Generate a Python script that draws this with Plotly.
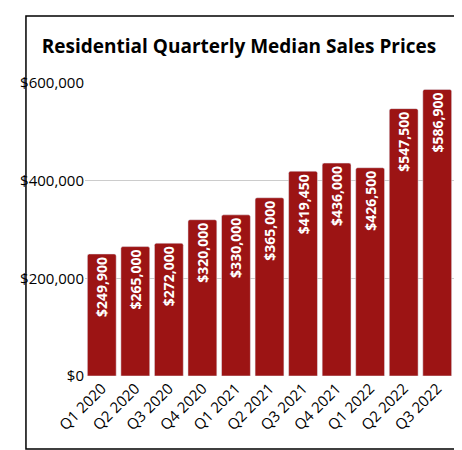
import plotly.graph_objects as go

quarters = ["Q1 2020", "Q2 2020", "Q3 2020", "Q4 2020", "Q1 2021", "Q2 2021",
            "Q3 2021", "Q4 2021", "Q1 2022", "Q2 2022", "Q3 2022"]
prices = [249900, 265000, 272000, 320000, 330000, 365000,
          419450, 436000, 426500, 547500, 586900]
labels = ["<b>$" + format(p, ",") + "</b>" for p in prices]

fig = go.Figure(go.Bar(
    x=quarters, y=prices, text=labels,
    marker=dict(color="#9c1414", cornerradius=2),
    textposition="inside", insidetextanchor="end", textangle=-90,
    textfont=dict(color="white", size=14, family="Open Sans"),
    cliponaxis=False,
))

fig.update_layout(
    width=462, height=450,
    paper_bgcolor="white", plot_bgcolor="white",
    font=dict(family="Open Sans", color="black"),
    title=dict(text="<b>Residential Quarterly Median Sales Prices</b>",
               x=0.5, xanchor="center", y=0.915, yanchor="middle",
               font=dict(size=19, family="Open Sans")),
    margin=dict(l=72, r=16, t=75, b=82),
    bargap=0.14,
    showlegend=False,
    shapes=[dict(type="rect", xref="paper", yref="paper",
                 x0=-0.16, x1=1.016, y0=-0.249, y1=1.229,
                 line=dict(color="black", width=1.5))],
)
fig.update_xaxes(tickangle=-45, tickfont=dict(size=15), showline=False)
fig.update_yaxes(range=[0, 600000], tickvals=[0, 200000, 400000, 600000],
                 ticktext=["$0", "$200,000", "$400,000", "$600,000"],
                 tickfont=dict(size=15), gridcolor="#cccccc", zeroline=False)

fig.write_html("out.html")
